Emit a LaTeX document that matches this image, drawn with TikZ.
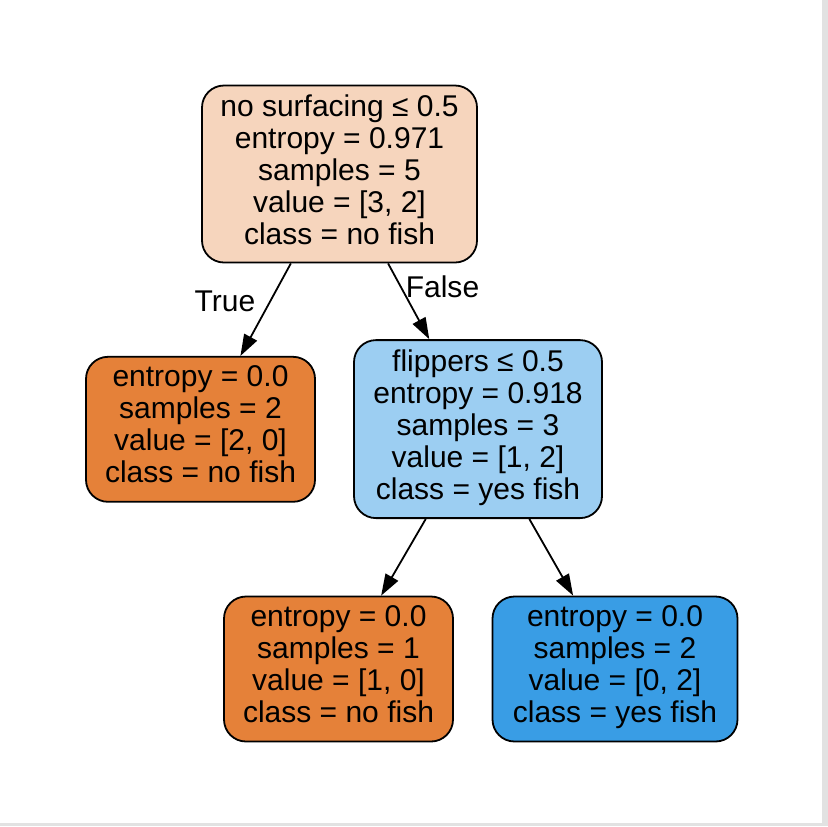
\documentclass[tikz,border=0pt]{standalone}
\usepackage{fontspec}
\setmainfont{Liberation Sans}
\usepackage{xcolor}
\usepackage{tikz}
\usetikzlibrary{positioning,arrows.meta}
\definecolor{rootfill}{HTML}{F6D5BD}
\definecolor{splitfill}{HTML}{9CCEF2}
\definecolor{nofish}{HTML}{E58139}
\definecolor{yesfish}{HTML}{399DE5}
\definecolor{framegray}{HTML}{E2E2E2}

\begin{document}
\begin{tikzpicture}[x=0.5pt, y=-0.5pt, every node/.style={font=\fontsize{15}{16}\selectfont},
  treenode/.style={draw, rounded corners=11pt, line width=0.9pt, align=center, inner sep=0pt,
    execute at begin node=\strut, execute at end node=\strut},
  splitnode/.style={treenode, minimum height=88.5pt},
  leafnode/.style={treenode, minimum height=72.5pt},
  arr/.style={-{Triangle[length=10.7pt,width=7.2pt]}, line width=0.9pt}]
\fill[framegray] (822,0) rectangle (828,826);
\fill[framegray] (0,823) rectangle (828,826);
\useasboundingbox (0,0) rectangle (828,826);
\node[splitnode, fill=rootfill, minimum width=137.5pt] (root) at (339.5,174) {no surfacing ≤ 0.5\\entropy = 0.971\\samples = 5\\value = [3, 2]\\class = no fish};
\node[leafnode, fill=nofish, minimum width=114.5pt, below=46.25pt of root, xshift=-69.5pt] (leftleaf) {entropy = 0.0\\samples = 2\\value = [2, 0]\\class = no fish};
\node[splitnode, fill=splitfill, minimum width=124pt, minimum height=89pt, below=37.9pt of root, xshift=69.25pt] (flippers) {flippers ≤ 0.5\\entropy = 0.918\\samples = 3\\value = [1, 2]\\class = yes fish};
\node[leafnode, fill=nofish, minimum width=114.5pt, below=38.3pt of flippers, xshift=-69.75pt] (noleaf) {entropy = 0.0\\samples = 1\\value = [1, 0]\\class = no fish};
\node[leafnode, fill=yesfish, minimum width=122.5pt, below=38.3pt of flippers, xshift=68.5pt] (yesleaf) {entropy = 0.0\\samples = 2\\value = [0, 2]\\class = yes fish};
\node (truelbl) at (225,301) {True};
\node (falselbl) at (442.5,286.7) {False};
\draw[arr] (root) -- (leftleaf);
\draw[arr] (root) -- (flippers);
\draw[arr] (flippers) -- (noleaf);
\draw[arr] (flippers) -- (yesleaf);
\end{tikzpicture}
\end{document}
